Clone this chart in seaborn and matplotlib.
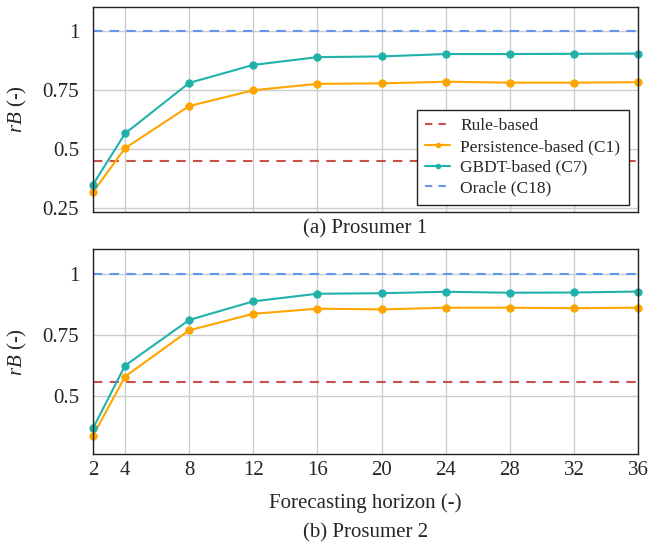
import matplotlib
matplotlib.use("Agg")
import matplotlib.pyplot as plt
import seaborn as sns
import pandas as pd
from matplotlib.lines import Line2D

horizons = [2, 4, 8, 12, 16, 20, 24, 28, 32, 36]

p1_persistence = [0.317, 0.503, 0.681, 0.748, 0.775, 0.777, 0.784, 0.780, 0.780, 0.782]
p1_gbdt = [0.349, 0.565, 0.779, 0.855, 0.888, 0.891, 0.901, 0.901, 0.902, 0.903]
p1_rule = 0.450
p1_oracle = 1.0

p2_persistence = [0.340, 0.581, 0.770, 0.837, 0.858, 0.855, 0.862, 0.862, 0.860, 0.862]
p2_gbdt = [0.370, 0.626, 0.812, 0.888, 0.919, 0.921, 0.927, 0.923, 0.924, 0.928]
p2_rule = 0.558
p2_oracle = 1.0

series_names = ["Rule-based", "Persistence-based (C1)", "GBDT-based (C7)", "Oracle (C18)"]
panel_titles = ["(a) Prosumer 1", "(b) Prosumer 2"]
xlabel = "Forecasting horizon (-)"
ylabel = "$rB$ (-)"

RED = "#c9504b"
ORANGE = "#ffa500"
TEAL = "#20b2aa"
BLUE = "#6495ed"

sns.set_style("whitegrid")
plt.rcParams["font.family"] = ["Liberation Serif", "DejaVu Serif"]
plt.rcParams["mathtext.fontset"] = "custom"
plt.rcParams["mathtext.it"] = "Liberation Serif:italic"
plt.rcParams["mathtext.rm"] = "Liberation Serif"

fig = plt.figure(figsize=(6.48, 5.43), dpi=100)
ax1 = fig.add_axes([0.1435, 0.6096, 0.8411, 0.3775])
ax2 = fig.add_axes([0.1435, 0.1633, 0.8411, 0.3775])

panels = [
    (ax1, p1_persistence, p1_gbdt, p1_rule, p1_oracle, (0.233, 1.1), [0.25, 0.5, 0.75, 1.0], ["0.25", "0.5", "0.75", "1"]),
    (ax2, p2_persistence, p2_gbdt, p2_rule, p2_oracle, (0.264, 1.1), [0.5, 0.75, 1.0], ["0.5", "0.75", "1"]),
]

for i, (ax, pers, gbdt, rule, oracle, ylim, yt, ytl) in enumerate(panels):
    df = pd.DataFrame({
        "h": horizons * 4,
        "v": [rule] * len(horizons) + pers + gbdt + [oracle] * len(horizons),
        "s": sum([[n] * len(horizons) for n in series_names], []),
    })
    sns.lineplot(data=df[df.s == series_names[0]], x="h", y="v", color=RED, lw=1.5,
                 ax=ax, linestyle=(0, (4.5, 3.5)), legend=False)
    sns.lineplot(data=df[df.s == series_names[3]], x="h", y="v", color=BLUE, lw=1.5,
                 ax=ax, linestyle=(0, (4.5, 3.5)), legend=False)
    sns.lineplot(data=df[df.s == series_names[1]], x="h", y="v", color=ORANGE, lw=1.5,
                 marker="o", markersize=6, markeredgewidth=0, ax=ax, legend=False,
                 clip_on=False, zorder=5)
    sns.lineplot(data=df[df.s == series_names[2]], x="h", y="v", color=TEAL, lw=1.5,
                 marker="o", markersize=6, markeredgewidth=0, ax=ax, legend=False,
                 clip_on=False, zorder=5)
    ax.set_xlim(2, 36)
    ax.set_ylim(*ylim)
    ax.set_xticks(horizons)
    ax.set_yticks(yt)
    ax.set_yticklabels(ytl)
    ax.grid(True, color="#cccccc", lw=1.0)
    ax.tick_params(axis="y", length=0, labelsize=15, pad=10)
    ax.tick_params(axis="x", length=0, labelsize=15, pad=5)
    for sp in ax.spines.values():
        sp.set_color("#222222")
        sp.set_linewidth(1.0)
        sp.set_zorder(6)
    ax.set_ylabel(ylabel, fontsize=15, labelpad=10)
    if i == 0:
        ax.set_xticklabels([])
        ax.set_xlabel(panel_titles[0], fontsize=15, labelpad=0)
    else:
        ax.set_xlabel(xlabel + "\n" + panel_titles[1], fontsize=15, labelpad=9, linespacing=1.75)

handles = [
    Line2D([], [], color=RED, lw=1.5, linestyle=(0, (3.5, 3))),
    Line2D([], [], color=ORANGE, lw=1.5, marker="o", markersize=4, markeredgewidth=0),
    Line2D([], [], color=TEAL, lw=1.5, marker="o", markersize=4, markeredgewidth=0),
    Line2D([], [], color=BLUE, lw=1.5, linestyle=(0, (3.5, 3))),
]
leg = ax1.legend(handles, series_names, loc="lower right", bbox_to_anchor=(0.983, 0.034),
                 borderaxespad=0, fontsize=12.5, frameon=True, fancybox=False, framealpha=1,
                 edgecolor="#222222", handlelength=1.4, handletextpad=0.6,
                 borderpad=0.5, labelspacing=0.26)
leg.get_frame().set_linewidth(1.0)
leg.set_zorder(10)

fig.savefig("out.png", dpi=100)
